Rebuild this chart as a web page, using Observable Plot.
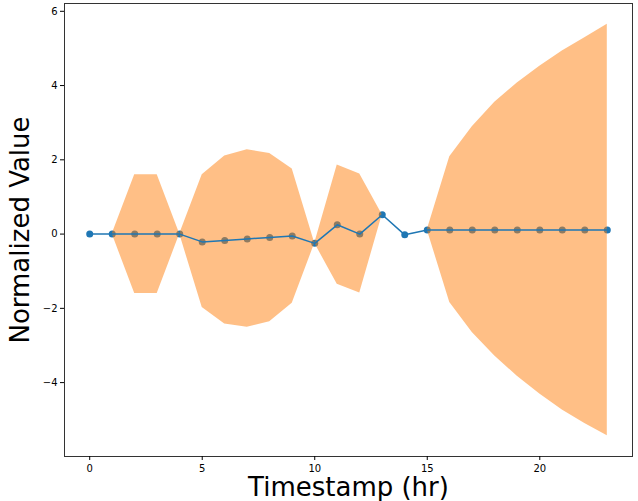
<!DOCTYPE html>
<html>
<head>
<meta charset="utf-8">
<script src="https://cdn.jsdelivr.net/npm/d3@7"></script>
<script src="https://cdn.jsdelivr.net/npm/@observablehq/plot@0.6"></script>
<style>
  html, body { margin: 0; padding: 0; background: #fff; }
  #chart { width: 638px; height: 501px; }
</style>
</head>
<body>
<div id="chart"></div>
<script>
const hours = [0,1,2,3,4,5,6,7,8,9,10,11,12,13,14,15,16,17,18,19,20,21,22,23];
const meanValues = [0,0,0,0,0,-0.21,-0.17,-0.13,-0.09,-0.05,-0.25,0.25,0,0.52,-0.02,0.11,0.11,0.11,0.11,0.11,0.11,0.11,0.11,0.11];
const upperValues = [0,0,1.6,1.6,0,1.6,2.1,2.27,2.17,1.75,-0.25,1.86,1.62,0.52,-0.02,0.11,2.08,2.89,3.55,4.07,4.52,4.93,5.29,5.65];
const lowerValues = [0,0,-1.6,-1.6,0,-1.98,-2.42,-2.51,-2.36,-1.86,-0.25,-1.35,-1.59,0.52,-0.02,0.11,-1.84,-2.65,-3.28,-3.83,-4.31,-4.74,-5.1,-5.43];
const xTicks = [0,5,10,15,20];
const yTicks = [-4,-2,0,2,4,6];

const rows = hours.map((h, i) => ({h, mean: meanValues[i], lo: lowerValues[i], hi: upperValues[i]}));

const font = "'DejaVu Sans', sans-serif";
const fmt = d => d < 0 ? "\u2212" + Math.abs(d) : String(d);
const chart = Plot.plot({
  width: 638,
  height: 501,
  marginLeft: 64,
  marginRight: 6,
  marginTop: 3,
  marginBottom: 45,
  style: {fontFamily: font, fontSize: "10px", color: "#000", background: "#fff"},
  x: {domain: [-1.12, 24.12], label: null},
  y: {domain: [-5.99, 6.21], label: null},
  marks: [
    Plot.dot(rows, {x: "h", y: "mean", r: 3.5, fill: "#1f77b4", stroke: "none"}),
    Plot.areaY(rows, {x: "h", y1: "lo", y2: "hi", fill: "#ff7f0e", fillOpacity: 0.5}),
    Plot.line(rows, {x: "h", y: "mean", stroke: "#1f77b4", strokeWidth: 1.5}),
    Plot.frame({stroke: "#333", strokeWidth: 1}),
    Plot.axisX({ticks: xTicks, tickSize: 4, tickPadding: 4, fontSize: 10, label: null, tickFormat: fmt}),
    Plot.axisY({ticks: yTicks, tickSize: 4, tickPadding: 3, fontSize: 10, label: null, tickFormat: fmt}),
    Plot.text(["Timestamp (hr)"], {frameAnchor: "bottom", dy: 39, fontSize: 26, fill: "#000", fontFamily: font, lineAnchor: "bottom"}),
    Plot.text(["Normalized Value"], {frameAnchor: "left", dx: -36, rotate: -90, textAnchor: "middle", fontSize: 26, fill: "#000", fontFamily: font, lineAnchor: "bottom"})
  ]
});
document.getElementById("chart").appendChild(chart);
</script>
</body>
</html>
